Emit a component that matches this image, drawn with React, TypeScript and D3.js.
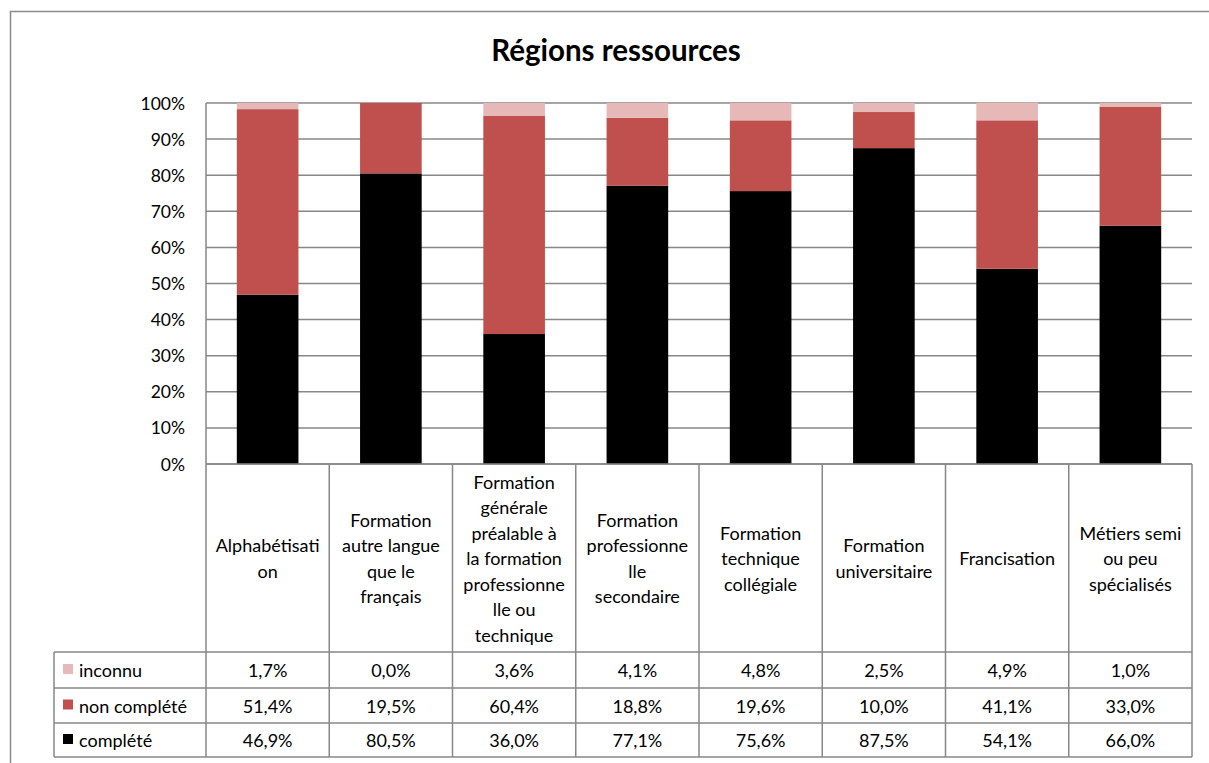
import React from "react";
import * as d3 from "d3";

const categories = [
  "Alphabétisation",
  "Formation autre langue que le français",
  "Formation générale préalable à la formation professionnelle ou technique",
  "Formation professionnelle secondaire",
  "Formation technique collégiale",
  "Formation universitaire",
  "Francisation",
  "Métiers semi ou peu spécialisés",
];

// Wrapped label lines as shown in the table header cells
const categoryLines = [
  ["Alphabétisati", "on"],
  ["Formation", "autre langue", "que le", "français"],
  ["Formation", "générale", "préalable à", "la formation", "professionne", "lle ou", "technique"],
  ["Formation", "professionne", "lle", "secondaire"],
  ["Formation", "technique", "collégiale"],
  ["Formation", "universitaire"],
  ["Francisation"],
  ["Métiers semi", "ou peu", "spécialisés"],
];

const complete = [46.9, 80.5, 36.0, 77.1, 75.6, 87.5, 54.1, 66.0];
const nonComplete = [51.4, 19.5, 60.4, 18.8, 19.6, 10.0, 41.1, 33.0];
const unknown = [1.7, 0.0, 3.6, 4.1, 4.8, 2.5, 4.9, 1.0];

const seriesNames = ["complété", "non complété", "inconnu"];
const seriesColors = ["#000000", "#C0504D", "#E6B9B8"];
const yTicks = [0, 10, 20, 30, 40, 50, 60, 70, 80, 90, 100];

const FONT = "Lato, 'Open Sans', sans-serif";
const GRID = "#878787";
const FS = 18;

export default function App() {
  const left = 206;
  const right = 1192;
  const top = 103;
  const bottom = 464;
  const tableLeft = 54;
  const headerBottom = 652;
  const rowLines = [652, 688, 723, 757];

  const x = d3
    .scaleBand<string>()
    .domain(categories)
    .range([left, right])
    .paddingInner(0.5)
    .paddingOuter(0.25);
  const y = d3.scaleLinear().domain([0, 100]).range([bottom, top]);

  const step = x.step();
  const cellLeft = (i: number) => left + i * step;

  const values = [complete, nonComplete, unknown];
  const stacked = d3
    .stack<number>()
    .keys(["0", "1", "2"])
    .value((i, k) => values[+k][i])(d3.range(categories.length));

  // Table rows: top to bottom is inconnu, non complété, complété
  const tableRows = [
    { name: seriesNames[2], color: seriesColors[2], vals: unknown },
    { name: seriesNames[1], color: seriesColors[1], vals: nonComplete },
    { name: seriesNames[0], color: seriesColors[0], vals: complete },
  ];

  const fmt = (v: number) => v.toFixed(1).replace(".", ",") + "%";
  const lineH = 25.5;
  const headerMid = (bottom + headerBottom) / 2;

  return (
    <svg width={1209} height={763} style={{ position: "absolute", left: 0, top: 0, fontFamily: FONT }}>
      <rect x={0} y={0} width={1209} height={763} fill="#fff" />
      <rect x={10.5} y={11.5} width={1220} height={770} fill="none" stroke="#8c8c8c" strokeWidth={1.5} />

      <text x={616} y={61} textAnchor="middle" fontSize={29.5} fontWeight={700} fill="#000">
        Régions ressources
      </text>

      {/* gridlines */}
      {yTicks.map((t) => (
        <line key={t} x1={left} x2={right} y1={y(t)} y2={y(t)} stroke={GRID} strokeWidth={1.5} />
      ))}
      <line x1={left} x2={left} y1={top} y2={bottom} stroke={GRID} strokeWidth={1.5} />

      {/* y labels */}
      {yTicks.map((t) => (
        <text key={t} x={185} y={y(t)} textAnchor="end" dominantBaseline="central" fontSize={17.5} fill="#000">
          {t}%
        </text>
      ))}

      {/* stacked bars */}
      {stacked.map((layer, si) =>
        layer.map((d, i) => (
          <rect
            key={`${si}-${i}`}
            x={x(categories[i])}
            width={x.bandwidth()}
            y={y(d[1])}
            height={Math.max(0, y(d[0]) - y(d[1]))}
            fill={seriesColors[si]}
          />
        ))
      )}

      {/* data table grid */}
      {d3.range(categories.length + 1).map((i) => (
        <line key={i} x1={cellLeft(i)} x2={cellLeft(i)} y1={bottom} y2={757} stroke={GRID} strokeWidth={1.5} />
      ))}
      <line x1={left} x2={right} y1={bottom} y2={bottom} stroke={GRID} strokeWidth={1.5} />
      <line x1={tableLeft} x2={tableLeft} y1={headerBottom} y2={757} stroke={GRID} strokeWidth={1.5} />
      {rowLines.map((ry) => (
        <line key={ry} x1={tableLeft} x2={right} y1={ry} y2={ry} stroke={GRID} strokeWidth={1.5} />
      ))}

      {/* category headers */}
      {categoryLines.map((lines, i) => {
        const cx = cellLeft(i) + step / 2;
        const start = headerMid - ((lines.length - 1) * lineH) / 2;
        return lines.map((ln, j) => (
          <text key={`${i}-${j}`} x={cx} y={start + j * lineH} textAnchor="middle" dominantBaseline="central" fontSize={FS} fill="#000">
            {ln}
          </text>
        ));
      })}

      {/* table rows */}
      {tableRows.map((row, r) => {
        const cy = (rowLines[r] + rowLines[r + 1]) / 2;
        return (
          <g key={row.name}>
            <rect x={63} y={cy - 6} width={10} height={10} fill={row.color} />
            <text x={79} y={cy} dominantBaseline="central" fontSize={FS} fill="#000">
              {row.name}
            </text>
            {row.vals.map((v, i) => (
              <text key={i} x={cellLeft(i) + step / 2} y={cy} textAnchor="middle" dominantBaseline="central" fontSize={FS} fill="#000">
                {fmt(v)}
              </text>
            ))}
          </g>
        );
      })}
    </svg>
  );
}
